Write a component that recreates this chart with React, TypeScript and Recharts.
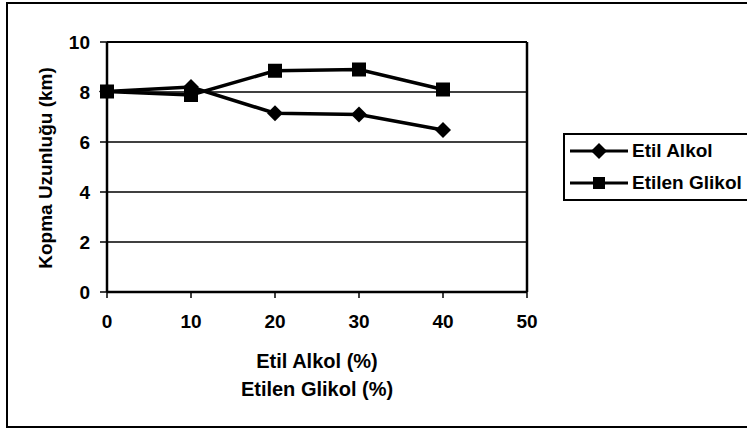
import React from 'react';
import { LineChart, Line, XAxis, YAxis, CartesianGrid, ReferenceLine, Label } from 'recharts';

const xValues = [0, 10, 20, 30, 40];
const etilAlkol = [8.02, 8.2, 7.15, 7.1, 6.48];
const etilenGlikol = [8.02, 7.88, 8.85, 8.9, 8.1];
const xTicks = [0, 10, 20, 30, 40, 50];
const yTicks = [0, 2, 4, 6, 8, 10];
const seriesNames = ['Etil Alkol', 'Etilen Glikol'];
const yTitle = 'Kopma Uzunluğu (km)';
const xTitleLines = ['Etil Alkol (%)', 'Etilen Glikol (%)'];

const data = xValues.map((x, i) => ({ x, a: etilAlkol[i], g: etilenGlikol[i] }));

const FONT = '"Liberation Sans", Arial, sans-serif';

const Diamond = (props: any) => {
  const { cx, cy } = props;
  if (cx == null || cy == null) return null;
  const r = 8;
  return <polygon points={`${cx},${cy - r} ${cx + r},${cy} ${cx},${cy + r} ${cx - r},${cy}`} fill="#000" />;
};

const Square = (props: any) => {
  const { cx, cy } = props;
  if (cx == null || cy == null) return null;
  const s = 14;
  return <rect x={cx - s / 2} y={cy - s / 2} width={s} height={s} fill="#000" />;
};

const LegendBox = () => (
  <div
    style={{
      position: 'absolute',
      left: 563,
      top: 133,
      border: '2px solid #000',
      width: 200,
      height: 68,
      boxSizing: 'border-box',
      background: '#fff',
      fontFamily: FONT,
      fontWeight: 700,
      fontSize: 19,
      color: '#000',
    }}
  >
    {seriesNames.map((name, i) => (
      <div key={name} style={{ display: 'flex', alignItems: 'center', height: 32 }}>
        <svg width={62} height={20} style={{ marginLeft: 5 }}>
          <line x1={0} y1={10} x2={58} y2={10} stroke="#000" strokeWidth={3} />
          {i === 0 ? (
            <polygon points="29,2 37,10 29,18 21,10" fill="#000" />
          ) : (
            <rect x={23} y={4} width={12} height={12} fill="#000" />
          )}
        </svg>
        <span>{name}</span>
      </div>
    ))}
  </div>
);

const YTitle = () => {
  const cx = 45;
  const cy = 168;
  return (
    <text
      x={cx}
      y={cy}
      transform={`rotate(-90 ${cx} ${cy})`}
      textAnchor="middle"
      dominantBaseline="central"
      fontFamily={FONT}
      fontWeight={700}
      fontSize={19}
      fill="#000"
    >
      {yTitle}
    </text>
  );
};

const XTitle = (props: any) => {
  const vb = props.viewBox || {};
  const cx = vb.x + vb.width / 2;
  return (
    <g>
      {xTitleLines.map((t, i) => (
        <text
          key={t}
          x={cx}
          y={vb.y + 69 + i * 28}
          textAnchor="middle"
          dominantBaseline="central"
          fontFamily={FONT}
          fontWeight={700}
          fontSize={20}
          fill="#000"
        >
          {t}
        </text>
      ))}
    </g>
  );
};

export default function App() {
  return (
    <div style={{ position: 'absolute', left: 0, top: 0, width: 747, height: 429, overflow: 'hidden', background: '#fff' }}>
      <div
        style={{
          position: 'absolute',
          left: 6,
          top: 2,
          width: 780,
          height: 426,
          border: '2px solid #000',
          boxSizing: 'border-box',
        }}
      />
      <div style={{ position: 'absolute', left: 0, top: 0 }}>
        <LineChart width={747} height={429} data={data} margin={{ top: 42, right: 220, bottom: 0, left: 7 }}>
          <CartesianGrid vertical={false} stroke="#000" strokeWidth={1.6} />
          <XAxis
            dataKey="x"
            type="number"
            domain={[0, 50]}
            ticks={xTicks}
            height={137}
            stroke="#000"
            strokeWidth={2.5}
            tickSize={6}
            tickMargin={17}
            tick={{ fill: '#000', fontSize: 19, fontWeight: 700, fontFamily: FONT }}
            tickLine={{ stroke: '#000', strokeWidth: 1.5 }}
          >
            <Label content={<XTitle />} />
          </XAxis>
          <YAxis
            type="number"
            domain={[0, 10]}
            ticks={yTicks}
            width={100}
            stroke="#000"
            strokeWidth={2.5}
            tickSize={7}
            tickMargin={10}
            tick={{ fill: '#000', fontSize: 19, fontWeight: 700, fontFamily: FONT }}
            tickLine={{ stroke: '#000', strokeWidth: 1.5 }}
          >
            <Label content={<YTitle />} />
          </YAxis>
          <ReferenceLine x={50} stroke="#000" strokeWidth={2.5} />
          <ReferenceLine y={10} stroke="#000" strokeWidth={2} />
          <Line
            dataKey="a"
            name={seriesNames[0]}
            stroke="#000"
            strokeWidth={3.5}
            dot={<Diamond />}
            activeDot={false}
            isAnimationActive={false}
          />
          <Line
            dataKey="g"
            name={seriesNames[1]}
            stroke="#000"
            strokeWidth={3.5}
            dot={<Square />}
            activeDot={false}
            isAnimationActive={false}
          />
        </LineChart>
      </div>
      <LegendBox />
    </div>
  );
}
